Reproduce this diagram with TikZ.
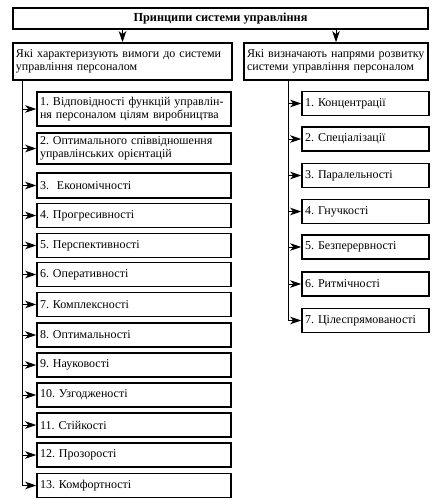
\documentclass[tikz,border=0pt]{standalone}
\usepackage{fontspec}
\setmainfont{Liberation Serif}
\usetikzlibrary{arrows.meta}
\begin{document}
\frenchspacing
\begin{tikzpicture}[x=1pt,y=1pt,
  box/.style={draw,line width=1.6pt,rectangle,inner xsep=3pt,inner ysep=1pt,font=\fontsize{12}{13}\selectfont,align=left},
  lbox/.style={box,minimum width=194pt,text width=188pt},
  rbox/.style={box,minimum width=127pt,text width=121pt,minimum height=24pt},
  conn/.style={line width=0.9pt},
  arr/.style={conn,arrows={-Stealth[length=11pt,width=7.5pt,inset=3pt]}}]
\useasboundingbox (0,0) rectangle (442,-500);
\node[box,minimum width=415pt,minimum height=21pt,align=center,font=\bfseries\fontsize{12.3}{13}\selectfont] (top) at (220.5,-18.5) {Принципи системи управління};
\node[box,minimum width=219pt,minimum height=37pt,text width=213pt] (lh) at (122.5,-61.5) {Які характеризують вимоги до системи\\управління персоналом};
\node[box,minimum width=184pt,minimum height=37pt,text width=178pt] (rh) at (336,-61.5) {Які визначають напрями розвитку\\системи управління персоналом};
\draw[arr] (top.south -| lh.north) -- (lh.north);
\draw[arr] (top.south -| rh.north) -- (rh.north);
% left items
\node[lbox,minimum height=34pt] (l1) at (134,-109) {1. Відповідності функцій управлін-\\ня персоналом цілям виробництва};
\node[lbox,minimum height=31pt] (l2) at (134,-148.5) {2. Оптимального співвідношення\\управлінських орієнтацій};
\node[lbox,minimum height=25pt] (l3) at (134,-185.5) {3.\ \ Економічності};
\node[lbox,minimum height=24pt] (l4) at (134,-215.5) {4. Прогресивності};
\node[lbox,minimum height=24pt] (l5) at (134,-245.5) {5. Перспективності};
\node[lbox,minimum height=24pt] (l6) at (134,-274.5) {6. Оперативності};
\node[lbox,minimum height=24pt] (l7) at (134,-304.5) {7. Комплексності};
\node[lbox,minimum height=24pt] (l8) at (134,-335) {8. Оптимальності};
\node[lbox,minimum height=24pt] (l9) at (134,-365) {9. Науковості};
\node[lbox,minimum height=24pt] (l10) at (134,-395) {10. Узгодженості};
\node[lbox,minimum height=24pt] (l11) at (134,-425) {11. Стійкості};
\node[lbox,minimum height=24pt] (l12) at (134,-455) {12. Прозорості};
\node[lbox,minimum height=24pt] (l13) at (134,-485.5) {13. Комфортності};
\coordinate (lb) at (22,-80);
\draw[conn] (lb) -- (lb |- l13.west);
\foreach \i in {1,...,13} \draw[arr] (lb |- l\i.west) -- (l\i.west);
% right items
\node[rbox] (r1) at (365.5,-103.5) {1. Концентрації};
\node[rbox] (r2) at (365.5,-139) {2. Спеціалізації};
\node[rbox] (r3) at (365.5,-175.5) {3. Паралельності};
\node[rbox] (r4) at (365.5,-211.5) {4. Гнучкості};
\node[rbox] (r5) at (365.5,-247) {5. Безперервності};
\node[rbox] (r6) at (365.5,-284) {6. Ритмічності};
\node[rbox] (r7) at (365.5,-320.5) {7. Цілеспрямованості};
\coordinate (rb) at (288,-80);
\draw[conn] (rb) -- (rb |- r7.west);
\foreach \i in {1,...,7} \draw[arr] (rb |- r\i.west) -- (r\i.west);
\end{tikzpicture}
\end{document}
